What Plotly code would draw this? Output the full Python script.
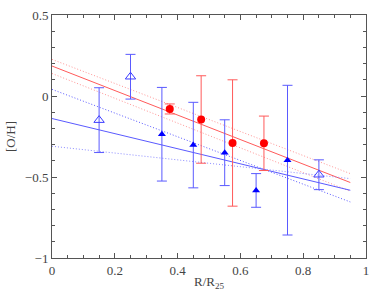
import plotly.graph_objects as go

# Red filled circles
red_x = [0.375, 0.475, 0.575, 0.675]
red_y = [-0.08, -0.145, -0.29, -0.292]
red_err = [0.031, 0.27, 0.39, 0.168]

# Blue filled triangles
blue_x = [0.35, 0.45, 0.55, 0.65, 0.75]
blue_y = [-0.236, -0.303, -0.35, -0.583, -0.396]
blue_err = [0.289, 0.264, 0.203, 0.104, 0.462]

# Blue open triangles
open_x = [0.15, 0.25, 0.85]
open_y = [-0.149, 0.119, -0.486]
open_err = [0.2, 0.138, 0.092]

# Fit lines (endpoints)
fit_x = [0.0, 0.95]
red_fit = [0.185, -0.534]
red_fit_hi = [0.226, -0.479]
red_fit_lo = [0.139, -0.588]
blue_fit = [-0.139, -0.582]
blue_fit_steep = [0.041, -0.654]
blue_fit_flat = [-0.31, -0.51]

RED_LINE = "rgb(255,90,90)"
RED_LIGHT = "rgb(255,150,150)"
BLUE_LINE = "rgb(90,90,255)"
BLUE_LIGHT = "rgb(140,140,255)"
DOT = "1px,2px"

fig = go.Figure()

def line(y, color, dash):
    fig.add_trace(go.Scatter(x=fit_x, y=y, mode="lines",
                             line=dict(color=color, width=1, dash=dash),
                             hoverinfo="skip", showlegend=False))

line(red_fit_hi, RED_LIGHT, DOT)
line(red_fit_lo, RED_LIGHT, DOT)
line(red_fit, RED_LINE, "solid")
line(blue_fit_steep, BLUE_LINE, DOT)
line(blue_fit_flat, BLUE_LIGHT, DOT)
line(blue_fit, BLUE_LINE, "solid")

fig.add_trace(go.Scatter(
    x=open_x, y=open_y, mode="markers",
    marker=dict(symbol="triangle-up-open", size=9, color="rgb(60,60,255)", line=dict(width=1)),
    error_y=dict(type="data", array=open_err, color=BLUE_LINE, thickness=1, width=5),
    showlegend=False))
fig.add_trace(go.Scatter(
    x=blue_x, y=blue_y, mode="markers",
    marker=dict(symbol="triangle-up", size=7, color="rgb(0,0,255)"),
    error_y=dict(type="data", array=blue_err, color=BLUE_LINE, thickness=1, width=5),
    showlegend=False))
fig.add_trace(go.Scatter(
    x=red_x, y=red_y, mode="markers",
    marker=dict(symbol="circle", size=8, color="rgb(255,0,0)"),
    error_y=dict(type="data", array=red_err, color=RED_LINE, thickness=1, width=5),
    showlegend=False))

axis_common = dict(
    showgrid=False, zeroline=False, showline=True, linecolor="#555", linewidth=1,
    mirror="allticks", ticks="inside", ticklen=5, tickcolor="#555", automargin=False,
    tickfont=dict(family="Liberation Serif", size=13, color="#444"),
)
fig.update_xaxes(range=[0, 1],
                 minor=dict(dtick=0.05, tick0=0, ticks="inside", ticklen=3, tickcolor="#555"),
                 tickvals=[0, 0.2, 0.4, 0.6, 0.8, 1], ticktext=["0", "0.2", "0.4", "0.6", "0.8", "1"],
                 title=dict(text="R/R<sub>25</sub>", standoff=2,
                            font=dict(family="Liberation Serif", size=13, color="#444")),
                 **axis_common)
fig.update_yaxes(range=[-1, 0.5],
                 minor=dict(dtick=0.1, tick0=0, ticks="inside", ticklen=3, tickcolor="#555"),
                 tickvals=[-1, -0.5, 0, 0.5], ticktext=["\u22121", "\u22120.5", "0", "0.5"],
                 title=dict(text="[O/H]", standoff=6,
                            font=dict(family="Liberation Serif", size=13, color="#444")),
                 **axis_common)

fig.update_layout(width=389, height=291, margin=dict(l=52, r=23, t=15, b=33),
                  plot_bgcolor="white", paper_bgcolor="white")
fig.write_html("out.html", config={"displayModeBar": False},
               post_script="document.body.style.margin='0';")
